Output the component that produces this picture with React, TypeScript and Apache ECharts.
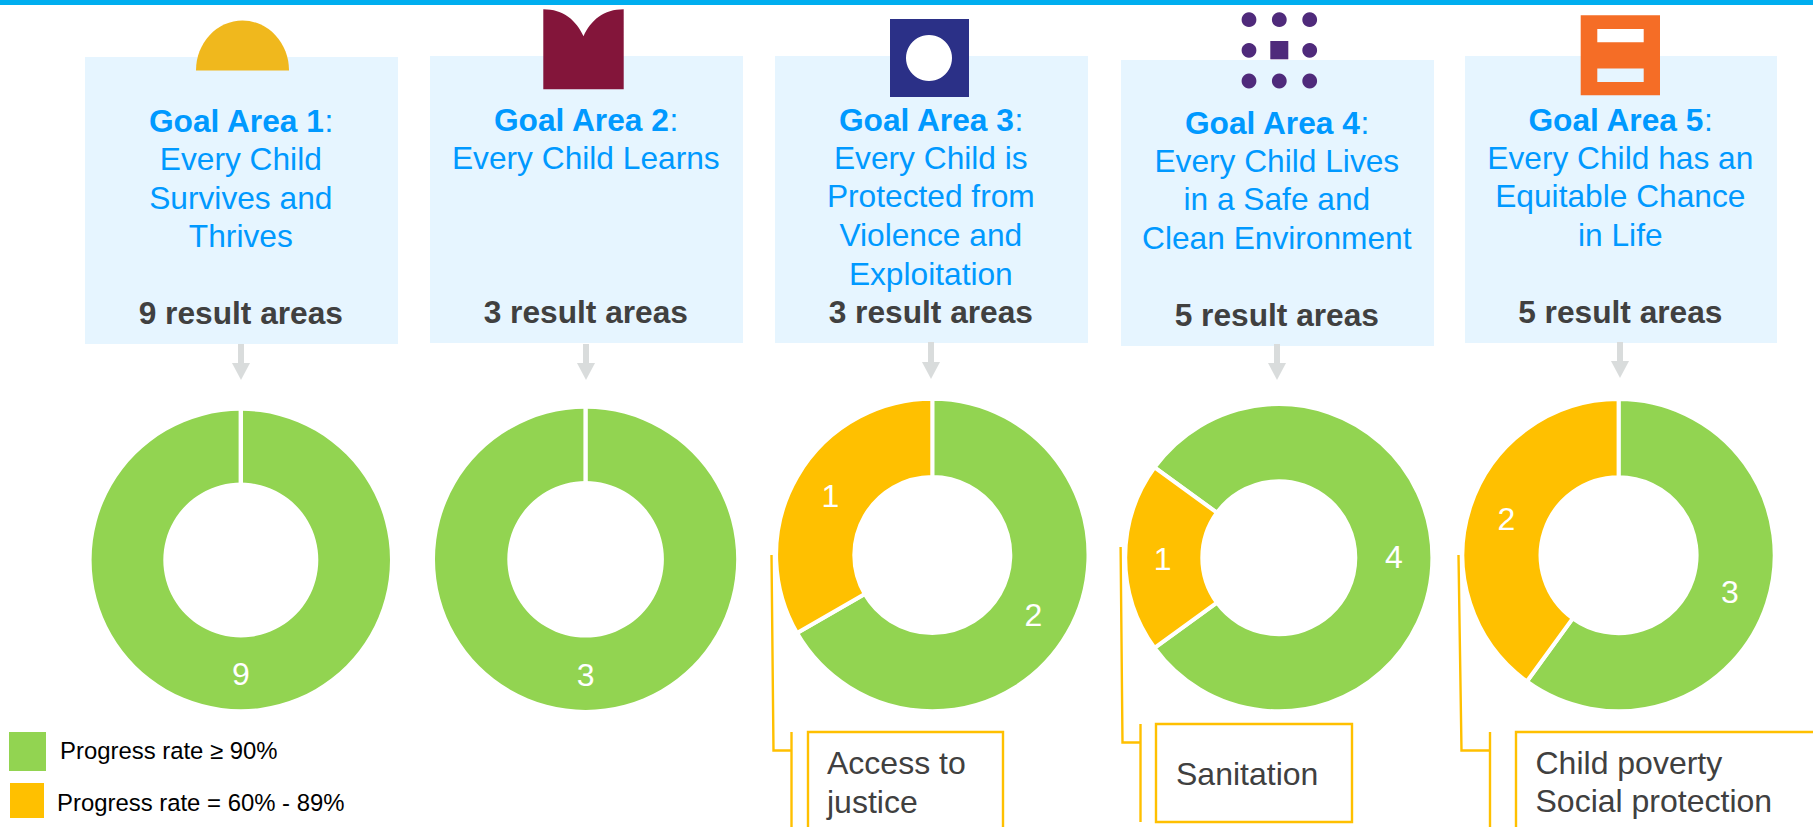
import React, { useEffect, useRef } from "react";
import * as echarts from "echarts";

const FONT = '"Liberation Sans", Arial, sans-serif';
const BLUE = "#0099FF";
const DARK = "#404040";
const GREEN = "#92D451";
const AMBER = "#FFC000";
const BOXBG = "#E6F5FF";
const ARROW = "#D9DCDC";

const goalTitles = ["Goal Area 1", "Goal Area 2", "Goal Area 3", "Goal Area 4", "Goal Area 5"];
const goalLines = [
  ["Every Child", "Survives and", "Thrives"],
  ["Every Child Learns"],
  ["Every Child is", "Protected from", "Violence and", "Exploitation"],
  ["Every Child Lives", "in a Safe and", "Clean Environment"],
  ["Every Child has an", "Equitable Chance", "in Life"],
];
const resultLabels = ["9 result areas", "3 result areas", "3 result areas", "5 result areas", "5 result areas"];
const onTrack = [9, 3, 2, 4, 3];
const partial = [0, 0, 1, 1, 2];
const legendLabels = ["Progress rate \u2265 90%", "Progress rate = 60% - 89%"];

// layout
const boxes = [
  { x: 85, y: 57, w: 313, h: 287, titleY: 121, result: 313 },
  { x: 430, y: 56, w: 313, h: 287, titleY: 119.5, result: 312 },
  { x: 775, y: 56, w: 313, h: 287, titleY: 119.5, result: 312 },
  { x: 1121, y: 60, w: 313, h: 286, titleY: 122.5, result: 315 },
  { x: 1465, y: 56, w: 312, h: 287, titleY: 119.5, result: 312 },
];
const donuts = [
  { cx: 240.8, cy: 560, r: 149.2, ri: 77.5, start: 90 },
  { cx: 585.6, cy: 559.3, r: 150.6, ri: 78.3, start: 90 },
  { cx: 932.3, cy: 555, r: 154.2, ri: 80, start: 90 },
  { cx: 1278.8, cy: 557.7, r: 151.6, ri: 78.5, start: 144 },
  { cx: 1618.6, cy: 555.2, r: 154.1, ri: 80, start: 90 },
];
const arrows = [
  { x: 241, y0: 344, y1: 380 },
  { x: 586, y0: 344, y1: 380 },
  { x: 931, y0: 342, y1: 379 },
  { x: 1277, y0: 344, y1: 380 },
  { x: 1620, y0: 342, y1: 378 },
];

echarts.graphic.registerShape(
  "bookIcon",
  echarts.graphic.extendPath("M0,0 C20,0 33,11 40.2,27 C47.4,11 60.4,0 80.4,0 L80.4,80 L0,80 Z", {})
);

const amberLine = { stroke: AMBER, lineWidth: 2.4, fill: "none" };

function text(x: number, y: number, t: string, size: number, fill: string, extra: any = {}) {
  return {
    type: "text",
    x,
    y,
    z: 5,
    style: {
      text: t,
      fontSize: size,
      fontFamily: FONT,
      fill,
      align: "center",
      verticalAlign: "middle",
      ...extra,
    },
  };
}

function buildGraphics() {
  const els: any[] = [];
  els.push({ type: "rect", shape: { x: 0, y: 0, width: 1813, height: 5 }, style: { fill: "#00AEEF" } });

  boxes.forEach((b, i) => {
    els.push({ type: "rect", z: 1, shape: { x: b.x, y: b.y, width: b.w, height: b.h }, style: { fill: BOXBG } });
    const cx = b.x + b.w / 2 - 0.7;
    els.push({
      type: "text",
      x: cx,
      y: b.titleY,
      z: 5,
      style: {
        text: `{b|${goalTitles[i]}}{n|:}`,
        align: "center",
        verticalAlign: "middle",
        rich: {
          b: { fontSize: 31.7, fontWeight: "bold", fontFamily: FONT, fill: BLUE, color: BLUE },
          n: { fontSize: 31.7, fontFamily: FONT, fill: BLUE, color: BLUE },
        },
      },
    });
    goalLines[i].forEach((l, j) => {
      els.push(text(cx, b.titleY + 38.7 * (j + 1) - 0.7, l, 31.7, BLUE));
    });
    els.push(text(cx, b.result, resultLabels[i], 31.7, DARK, { fontWeight: "bold" }));
  });

  arrows.forEach((a) => {
    els.push({ type: "rect", z: 2, shape: { x: a.x - 3, y: a.y0, width: 6, height: a.y1 - a.y0 - 16 }, style: { fill: ARROW } });
    els.push({
      type: "polygon",
      z: 2,
      shape: { points: [[a.x - 9, a.y1 - 17], [a.x + 9, a.y1 - 17], [a.x, a.y1]] },
      style: { fill: ARROW },
    });
  });

  // icons
  els.push({
    type: "sector",
    z: 3,
    x: 242.5,
    y: 70.5,
    scaleY: 50 / 46.5,
    shape: { cx: 0, cy: 0, r: 46.5, r0: 0, startAngle: Math.PI, endAngle: Math.PI * 2, clockwise: true },
    style: { fill: "#F0B81D" },
  });
  els.push({ type: "bookIcon", z: 3, x: 543.3, y: 9.3, style: { fill: "#83153A" } });
  els.push({ type: "rect", z: 3, shape: { x: 890, y: 19, width: 79, height: 78 }, style: { fill: "#2B3087" } });
  els.push({ type: "circle", z: 4, shape: { cx: 929, cy: 58, r: 23 }, style: { fill: "#FFFFFF" } });
  [1249, 1279.3, 1309.7].forEach((x) =>
    [19.7, 50.3, 81].forEach((y) => {
      if (x === 1279.3 && y === 50.3) return;
      els.push({ type: "circle", z: 3, shape: { cx: x, cy: y, r: 7.4 }, style: { fill: "#4F2A7B" } });
    })
  );
  els.push({ type: "rect", z: 3, shape: { x: 1270.3, y: 41, width: 18, height: 18.3 }, style: { fill: "#4F2A7B" } });
  els.push({ type: "rect", z: 3, shape: { x: 1580.7, y: 15.3, width: 79.3, height: 80 }, style: { fill: "#F56D26" } });
  els.push({ type: "rect", z: 4, shape: { x: 1597.3, y: 29, width: 46.4, height: 13.3 }, style: { fill: "#FFFFFF" } });
  els.push({ type: "rect", z: 4, shape: { x: 1597.3, y: 68.5, width: 46.4, height: 13.5 }, style: { fill: BOXBG } });

  // separator on single-slice rings
  donuts.forEach((d, i) => {
    if (partial[i] === 0) {
      els.push({
        type: "rect",
        z: 10,
        shape: { x: d.cx - 2.2, y: d.cy - d.r - 1, width: 4.4, height: d.r - d.ri + 2 },
        style: { fill: "#FFFFFF" },
      });
    }
  });

  // legend
  els.push({ type: "rect", shape: { x: 9, y: 732, width: 37, height: 39 }, style: { fill: GREEN } });
  els.push({ type: "rect", shape: { x: 10, y: 783, width: 34, height: 35 }, style: { fill: AMBER } });
  els.push(text(60, 750, legendLabels[0], 23.9, "#000000", { align: "left" }));
  els.push(text(57, 802, legendLabels[1], 23.9, "#000000", { align: "left" }));

  // callouts
  const poly = (pts: number[][]) => ({ type: "polyline", z: 6, shape: { points: pts }, style: amberLine });
  els.push(poly([[771.5, 555], [773.5, 750.5], [791.5, 750.5]]));
  els.push(poly([[791.5, 732], [791.5, 827]]));
  els.push(poly([[1003, 827], [1003, 732], [808, 732], [808, 827]]));
  els.push(text(827, 763, "Access to", 32, DARK, { align: "left" }));
  els.push(text(827, 802, "justice", 32, DARK, { align: "left" }));

  els.push(poly([[1120.6, 547], [1122.5, 742.5], [1140.5, 742.5]]));
  els.push(poly([[1140.5, 724], [1140.5, 822]]));
  els.push({ type: "rect", z: 6, shape: { x: 1156, y: 724, width: 196, height: 98 }, style: amberLine });
  els.push(text(1176, 774, "Sanitation", 32, DARK, { align: "left" }));

  els.push(poly([[1458.5, 555], [1461.5, 750.5], [1490, 750.5]]));
  els.push(poly([[1490, 732], [1490, 827]]));
  els.push(poly([[1813, 732], [1516, 732], [1516, 827]]));
  els.push(text(1535.5, 763, "Child poverty", 32, DARK, { align: "left" }));
  els.push(text(1535.5, 801, "Social protection", 32, DARK, { align: "left" }));
  return els;
}

export default function App() {
  const ref = useRef<HTMLDivElement>(null);
  useEffect(() => {
    document.body.style.margin = "0";
    document.body.style.overflow = "hidden";
    const chart = echarts.init(ref.current!, null, { renderer: "svg" });
    chart.setOption({
      animation: false,
      backgroundColor: "#FFFFFF",
      tooltip: { show: false },
      series: donuts.map((d, i) => ({
        type: "pie",
        center: [d.cx, d.cy],
        radius: [d.ri - (partial[i] > 0 ? 2 : 0), d.r + (partial[i] > 0 ? 2 : 0)],
        startAngle: d.start,
        clockwise: true,
        silent: true,
        z: 2,
        avoidLabelOverlap: false,
        label: {
          show: true,
          position: "inside",
          formatter: "{c}",
          color: "#FFFFFF",
          fontSize: 32,
          fontFamily: FONT,
        },
        labelLine: { show: false },
        itemStyle: partial[i] > 0 ? { borderColor: "#FFFFFF", borderWidth: 4 } : { borderWidth: 0 },
        data: [
          {
            value: onTrack[i],
            name: "Progress rate \u2265 90%",
            itemStyle: { color: GREEN },
            label: { offset: partial[i] > 0 ? [-3, -0.5] : [0, -2] },
          },
          ...(partial[i] > 0
            ? [
                {
                  value: partial[i],
                  name: "Progress rate = 60% - 89%",
                  itemStyle: { color: AMBER },
                  label: { offset: [2, 1] },
                },
              ]
            : []),
        ],
      })),
      graphic: { elements: buildGraphics() },
    });
    return () => chart.dispose();
  }, []);
  return <div ref={ref} style={{ position: "absolute", left: 0, top: 0, width: 1813, height: 827 }} />;
}
